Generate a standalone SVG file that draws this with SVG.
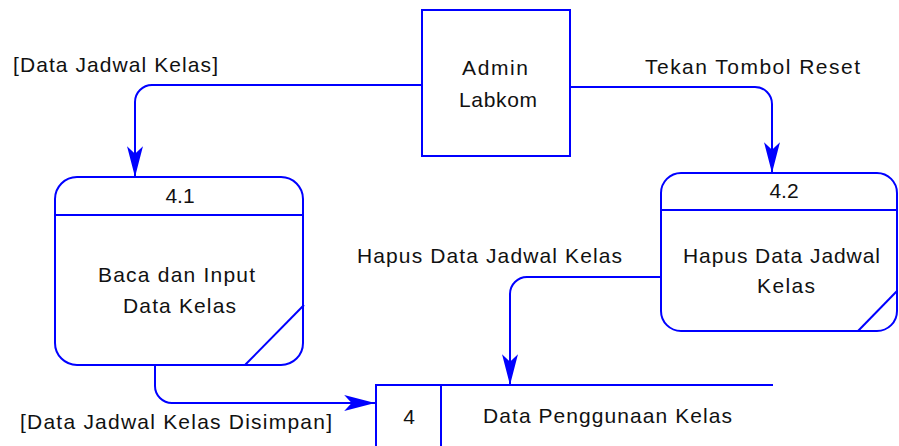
<svg xmlns="http://www.w3.org/2000/svg" width="899" height="446" viewBox="0 0 899 446">
<defs>
<style>
.s{fill:none;stroke:#0000ff;stroke-width:2}
.t{font-family:"Liberation Sans",Arial,sans-serif;font-size:21px;fill:#111}
.c{text-anchor:middle}
</style>
<marker id="ah" markerUnits="userSpaceOnUse" markerWidth="34" markerHeight="20" viewBox="-30 -9 32 18" refX="0" refY="0" orient="auto">
<path d="M0,0 L-29,-7.5 L-22,0 L-29,7.5 Z" fill="#0000ff"/>
</marker>
</defs>
<rect width="899" height="446" fill="#fff"/>
<g id="admin">
<rect class="s" x="422" y="10" width="148" height="146"/>
<text class="t" x="462" y="75" textLength="66">Admin</text>
<text class="t" x="459" y="107" textLength="78">Labkom</text>
</g>
<g id="p41">
<rect class="s" x="55" y="177" width="248" height="188" rx="22"/>
<line class="s" x1="55" y1="215" x2="303" y2="215"/>
<line class="s" x1="304" y1="305" x2="245" y2="365"/>
<text class="t c" x="180" y="203">4.1</text>
<text class="t" x="98" y="282" textLength="157">Baca dan Input</text>
<text class="t" x="123" y="313" textLength="113">Data Kelas</text>
</g>
<g id="p42">
<rect class="s" x="661" y="173" width="236" height="158" rx="20"/>
<line class="s" x1="661" y1="210" x2="897" y2="210"/>
<line class="s" x1="897" y1="291" x2="858" y2="331"/>
<text class="t c" x="784" y="198">4.2</text>
<text class="t" x="683" y="263" textLength="197">Hapus Data Jadwal</text>
<text class="t" x="757" y="293" textLength="58">Kelas</text>
</g>
<g id="store4">
<path class="s" d="M773,385 H376 V446 M441,385 V446"/>
<text class="t c" x="409" y="424">4</text>
<text class="t" x="483" y="423" textLength="249">Data Penggunaan Kelas</text>
</g>
<g id="connectors">
<path class="s" d="M422,85 H152 A17,17 0 0 0 135,102 V177" marker-end="url(#ah)"/>
<path class="s" d="M570,87 H755 A17,17 0 0 1 772,104 V173" marker-end="url(#ah)"/>
<path class="s" d="M661,277 H527 A17,17 0 0 0 510,294 V385" marker-end="url(#ah)"/>
<path class="s" d="M155,365 V386 A17,17 0 0 0 172,403 H375" marker-end="url(#ah)"/>
<text class="t" x="13" y="72" textLength="205">[Data Jadwal Kelas]</text>
<text class="t" x="645" y="74" textLength="215">Tekan Tombol Reset</text>
<text class="t" x="357" y="263" textLength="265">Hapus Data Jadwal Kelas</text>
<text class="t" x="20" y="429" textLength="312">[Data Jadwal Kelas Disimpan]</text>
</g>
</svg>
